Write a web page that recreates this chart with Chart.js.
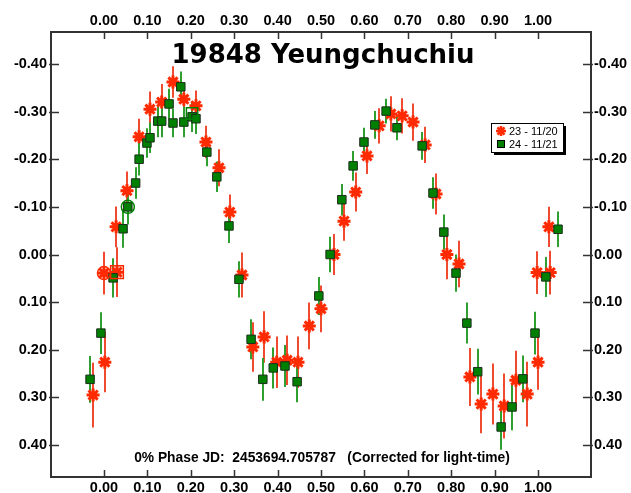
<!DOCTYPE html>
<html>
<head>
<meta charset="utf-8">
<script src="https://cdn.jsdelivr.net/npm/chart.js@4/dist/chart.umd.min.js"></script>
<style>
  html, body { margin: 0; padding: 0; background: #fff; overflow: hidden; }
</style>
</head>
<body>
<canvas id="chart" width="631" height="493"></canvas>
<script>
// tick labels
const xTicks = [0.00, 0.10, 0.20, 0.30, 0.40, 0.50, 0.60, 0.70, 0.80, 0.90, 1.00];
const yTicks = [-0.40, -0.30, -0.20, -0.10, 0.00, 0.10, 0.20, 0.30, 0.40];

// session 23 - 11/20 (red asterisks)
const redPhase = [-0.025, 0.002, 0.000, 0.030, 0.028, 0.053, 0.081, 0.106, 0.133, 0.159, 0.184, 0.212,
                  0.235, 0.265, 0.290, 0.318, 0.343, 0.369, 0.398, 0.422, 0.447, 0.473, 0.500, 0.530,
                  0.553, 0.580, 0.606, 0.634, 0.661, 0.687, 0.712, 0.740, 0.765, 0.790, 0.818, 0.843,
                  0.869, 0.896, 0.922, 0.949, 0.975, 1.000, 0.998, 1.025, 1.028];
const redMag   = [0.295, 0.226, 0.039, 0.037, -0.058, -0.134, -0.247, -0.305, -0.320, -0.362, -0.326, -0.312,
                  -0.236, -0.182, -0.089, 0.043, 0.194, 0.173, 0.226, 0.222, 0.226, 0.150, 0.114, 0.000,
                  -0.070, -0.131, -0.207, -0.270, -0.295, -0.291, -0.278, -0.230, -0.127, 0.000, 0.020, 0.257,
                  0.314, 0.293, 0.318, 0.264, 0.293, 0.226, 0.038, -0.058, 0.038];
const redErr   = [0.068, 0.063, 0.045, 0.052, 0.043, 0.040, 0.038, 0.037, 0.038, 0.033, 0.032, 0.032,
                  0.034, 0.039, 0.037, 0.047, 0.052, 0.054, 0.054, 0.052, 0.054, 0.049, 0.049, 0.043,
                  0.041, 0.041, 0.038, 0.037, 0.037, 0.037, 0.039, 0.038, 0.043, 0.052, 0.049, 0.061,
                  0.061, 0.064, 0.068, 0.062, 0.068, 0.058, 0.045, 0.042, 0.046];

// session 24 - 11/21 (green squares)
const greenPhase = [-0.032, -0.007, 0.021, 0.044, 0.055, 0.073, 0.081, 0.099, 0.106, 0.124, 0.133, 0.150,
                    0.159, 0.177, 0.184, 0.203, 0.212, 0.237, 0.260, 0.288, 0.311, 0.339, 0.366, 0.390,
                    0.417, 0.445, 0.495, 0.521, 0.548, 0.574, 0.599, 0.624, 0.650, 0.675, 0.733, 0.758,
                    0.783, 0.811, 0.836, 0.861, 0.915, 0.940, 0.965, 0.993, 1.018, 1.046];
const greenMag   = [0.262, 0.165, 0.049, -0.054, -0.100, -0.150, -0.200, -0.234, -0.245, -0.280, -0.280, -0.316,
                    -0.276, -0.352, -0.278, -0.289, -0.285, -0.215, -0.163, -0.060, 0.052, 0.178, 0.262, 0.238,
                    0.234, 0.267, 0.087, 0.000, -0.115, -0.186, -0.236, -0.272, -0.301, -0.266, -0.228, -0.129,
                    -0.047, 0.039, 0.144, 0.246, 0.362, 0.320, 0.261, 0.165, 0.047, -0.053];
const greenErr   = [0.049, 0.044, 0.041, 0.040, 0.037, 0.033, 0.034, 0.031, 0.032, 0.034, 0.034, 0.032,
                    0.030, 0.032, 0.032, 0.032, 0.032, 0.030, 0.032, 0.036, 0.038, 0.042, 0.045, 0.043,
                    0.044, 0.043, 0.040, 0.037, 0.033, 0.031, 0.030, 0.029, 0.026, 0.026, 0.029, 0.033,
                    0.037, 0.039, 0.043, 0.048, 0.048, 0.049, 0.049, 0.045, 0.042, 0.037];

// highlighted observations
const redRingPhase = [0.000],   redRingMag = [0.039];
const redBoxPhase = [0.030],    redBoxMag = [0.037];
const greenRingPhase = [0.055], greenRingMag = [-0.100];
const greenBoxPhase = [0.203],  greenBoxMag = [-0.296];

const RED = '#ff2a00';
const RED_BAR = '#f04a30';
const GREEN = '#008000';
const GREEN_BAR = '#2f9f2f';
const FRAME = '#333333';

const pts = (px, py, err) => px.map((p, i) => ({ x: p, y: py[i], e: err ? err[i] : 0 }));

// vertical error bars through the chart's scales
const errorBars = {
  id: 'errorBars',
  beforeDatasetsDraw(chart) {
    const { ctx, chartArea, scales: { x, y } } = chart;
    ctx.save();
    ctx.beginPath();
    ctx.rect(chartArea.left, chartArea.top, chartArea.right - chartArea.left, chartArea.bottom - chartArea.top);
    ctx.clip();
    chart.data.datasets.forEach(ds => {
      if (!ds.barColor) return;
      ctx.strokeStyle = ds.barColor;
      ctx.lineWidth = 2;
      ds.data.forEach(d => {
        const px = Math.round(x.getPixelForValue(d.x));
        ctx.beginPath();
        ctx.moveTo(px, y.getPixelForValue(d.y - d.e));
        ctx.lineTo(px, y.getPixelForValue(d.y + d.e));
        ctx.stroke();
      });
    });
    ctx.restore();
  }
};

// inward tick marks, title, footnote and legend
const decorations = {
  id: 'decorations',
  afterDraw(chart) {
    const { ctx, chartArea: a, scales: { x, y } } = chart;
    ctx.save();
    ctx.strokeStyle = FRAME;
    ctx.lineWidth = 1.5;
    xTicks.forEach(v => {
      const px = Math.round(x.getPixelForValue(v)) + 0.5;
      ctx.beginPath();
      ctx.moveTo(px, a.top); ctx.lineTo(px, a.top + 7);
      ctx.moveTo(px, a.bottom); ctx.lineTo(px, a.bottom - 7);
      ctx.stroke();
    });
    yTicks.forEach(v => {
      const py = Math.round(y.getPixelForValue(v)) + 0.5;
      ctx.beginPath();
      ctx.moveTo(a.left - 2, py); ctx.lineTo(a.left + 8, py);
      ctx.moveTo(a.right + 2, py); ctx.lineTo(a.right - 8, py);
      ctx.stroke();
    });

    ctx.fillStyle = '#000';
    ctx.textAlign = 'center';
    ctx.textBaseline = 'alphabetic';
    ctx.font = 'bold 26px "DejaVu Sans"';
    ctx.fillText('19848 Yeungchuchiu', 323, 63);
    ctx.font = 'bold 13.8px "Liberation Sans"';
    ctx.fillText('0% Phase JD:  2453694.705787   (Corrected for light-time)', 322, 462);

    // legend box
    const lx = 491, ly = 123, lw = 72, lh = 29;
    ctx.fillStyle = '#000';
    ctx.fillRect(lx + 3, ly + 3, lw, lh);
    ctx.fillStyle = '#fff';
    ctx.fillRect(lx, ly, lw, lh);
    ctx.strokeStyle = '#000';
    ctx.lineWidth = 1;
    ctx.strokeRect(lx + 0.5, ly + 0.5, lw, lh);
    ctx.strokeStyle = RED;
    ctx.lineWidth = 2.5;
    Chart.helpers.drawPoint(ctx, { pointStyle: 'star', radius: 5, borderWidth: 2.5, rotation: 0 }, lx + 10, ly + 8);
    ctx.fillStyle = GREEN;
    ctx.strokeStyle = '#000';
    ctx.lineWidth = 1;
    ctx.fillRect(lx + 6, ly + 17, 8, 8);
    ctx.strokeRect(lx + 6.5, ly + 17.5, 7, 7);
    ctx.fillStyle = '#000';
    ctx.textAlign = 'left';
    ctx.font = '11px "Liberation Sans"';
    ctx.fillText(chart.data.datasets[0].label, lx + 18, ly + 12);
    ctx.fillText(chart.data.datasets[1].label, lx + 18, ly + 25);
    ctx.restore();
  }
};

const tickFont = { family: '"Liberation Sans"', size: 14.5, weight: 'bold' };
const xRange = { min: -0.122, max: 1.122 };
const yRange = { min: -0.467, max: 0.467 };

const xAxis = (pos, h, pad) => ({
  type: 'linear', position: pos, display: true, ...xRange,
  afterBuildTicks: s => { s.ticks = xTicks.map(v => ({ value: v })); },
  afterFit: s => { s.height = h; },
  grid: { display: false, drawTicks: false },
  border: { display: true, color: FRAME, width: 2 },
  ticks: { color: '#000', font: tickFont, padding: pad, maxRotation: 0, autoSkip: false,
           callback: v => v.toFixed(2) }
});
const yAxis = (pos, w, pad) => ({
  type: 'linear', position: pos, display: true, reverse: true, ...yRange,
  afterBuildTicks: s => { s.ticks = yTicks.map(v => ({ value: v })); },
  afterFit: s => { s.width = w; },
  grid: { display: false, drawTicks: false },
  border: { display: true, color: FRAME, width: 2 },
  ticks: { color: '#000', font: tickFont, padding: pad, autoSkip: false,
           callback: v => (Math.abs(v) < 1e-9 ? 0 : v).toFixed(2) }
});

new Chart(document.getElementById('chart').getContext('2d'), {
  type: 'scatter',
  data: {
    datasets: [
      {
        label: '23 - 11/20',
        data: pts(redPhase, redMag, redErr),
        pointStyle: 'star', pointRadius: 6.5, borderWidth: 3,
        borderColor: RED, backgroundColor: RED, barColor: RED_BAR, order: 3
      },
      {
        label: '24 - 11/21',
        data: pts(greenPhase, greenMag, greenErr),
        pointStyle: 'rect', pointRadius: 6, borderWidth: 1,
        borderColor: '#1c2e1c', backgroundColor: GREEN, barColor: GREEN_BAR, order: 2
      },
      {
        label: 'red ring', data: pts(redRingPhase, redRingMag),
        pointStyle: 'circle', pointRadius: 6.5, borderWidth: 1.5,
        borderColor: RED, backgroundColor: 'rgba(0,0,0,0)', order: 1
      },
      {
        label: 'red box', data: pts(redBoxPhase, redBoxMag),
        pointStyle: 'rect', pointRadius: 9, borderWidth: 1.5,
        borderColor: RED, backgroundColor: 'rgba(0,0,0,0)', order: 1
      },
      {
        label: 'green ring', data: pts(greenRingPhase, greenRingMag),
        pointStyle: 'circle', pointRadius: 6.5, borderWidth: 1.5,
        borderColor: GREEN, backgroundColor: 'rgba(0,0,0,0)', order: 1
      },
      {
        label: 'green box', data: pts(greenBoxPhase, greenBoxMag),
        pointStyle: 'rect', pointRadius: 8, borderWidth: 1.5,
        borderColor: GREEN, backgroundColor: 'rgba(0,0,0,0)', order: 1
      }
    ]
  },
  options: {
    responsive: false,
    animation: false,
    devicePixelRatio: 1,
    layout: { padding: 0 },
    plugins: { legend: { display: false }, tooltip: { enabled: false } },
    scales: {
      x: xAxis('bottom', 16, 2),
      x2: xAxis('top', 32, 2),
      y: yAxis('left', 51, 4),
      y2: yAxis('right', 40, 3)
    }
  },
  plugins: [errorBars, decorations]
});
</script>
</body>
</html>
